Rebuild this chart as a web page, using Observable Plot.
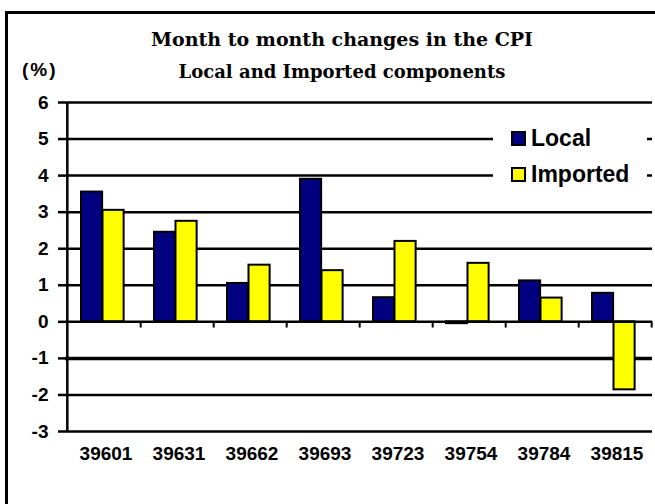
<!DOCTYPE html>
<html>
<head>
<meta charset="utf-8">
<script src="https://cdn.jsdelivr.net/npm/d3@7"></script>
<script src="https://cdn.jsdelivr.net/npm/@observablehq/plot@0.6"></script>
<style>
  html, body { margin: 0; padding: 0; background: #fff; }
  #wrap { position: relative; width: 655px; height: 504px; overflow: hidden; background: #fff; }
  #frame { position: absolute; left: 5px; top: 11px; width: 700px; height: 600px;
           border-left: 3px solid #000; border-top: 3px solid #000; }
  #chart { position: absolute; left: 0; top: 0; }
  .title { position: absolute; left: 0; width: 684px; text-align: center;
           font-family: "DejaVu Serif", serif; font-weight: bold; color: #000; white-space: nowrap; }
  #t1 { top: 28px; font-size: 19px; }
  #t2 { top: 61px; font-size: 18px; }
  #unit { position: absolute; left: 22px; top: 59px; font-family: "Liberation Sans", sans-serif;
          font-weight: bold; font-size: 19px; letter-spacing: 2px; }
  #legend { position: absolute; left: 493px; top: 119px; width: 154px; height: 76px; background: #fff;
            font-family: "Liberation Sans", sans-serif; font-weight: bold; font-size: 23px; }
  .item { position: absolute; left: 18px; height: 26px; display: flex; align-items: center; white-space: nowrap; }
  .sw { width: 11px; height: 11px; border: 2px solid #000; margin-right: 5px; }
</style>
</head>
<body>
<div id="wrap">
  <div id="frame"></div>
  <div id="chart"></div>
  <div class="title" id="t1">Month to month changes in the CPI</div>
  <div class="title" id="t2">Local and Imported components</div>
  <div id="unit">(%)</div>
  <div id="legend"></div>
</div>
<script>
const categories = ["39601", "39631", "39662", "39693", "39723", "39754", "39784", "39815"];
const localValues = [3.55, 2.45, 1.05, 3.9, 0.66, -0.05, 1.12, 0.78];
const importedValues = [3.05, 2.75, 1.55, 1.4, 2.2, 1.6, 0.65, -1.86];
const yTicks = [-3, -2, -1, 0, 1, 2, 3, 4, 5, 6];
const seriesNames = ["Local", "Imported"];
const seriesColors = ["#000080", "#FFFF00"];

const W = 655, H = 504;
const mL = 65, mR = 3, mT = 102, mB = 73;
const bw = (W - mL - mR) / categories.length;
const barW = 21.5;
const gapL = 14;

const localData = categories.map((c, i) => ({cat: c, v: localValues[i]}));
const importedData = categories.map((c, i) => ({cat: c, v: importedValues[i]}));

const chart = Plot.plot({
  width: W, height: H,
  marginLeft: mL, marginRight: mR, marginTop: mT, marginBottom: mB,
  style: {fontFamily: "Liberation Sans, sans-serif", fontWeight: "bold", color: "#000", background: "transparent", overflow: "visible"},
  x: {type: "band", domain: categories, padding: 0, label: null},
  y: {domain: [-3, 6], label: null},
  marks: [
    Plot.ruleY(yTicks.filter(t => t !== 0 && t !== -1), {stroke: "#000", strokeWidth: 2.5}),
    Plot.ruleY([-1], {stroke: "#000", strokeWidth: 3.5}),
    Plot.barY(localData, {x: "cat", y: "v", fill: seriesColors[0], stroke: "#000", strokeWidth: 2,
      insetLeft: gapL, insetRight: bw - gapL - barW}),
    Plot.barY(importedData, {x: "cat", y: "v", fill: seriesColors[1], stroke: "#000", strokeWidth: 2,
      insetLeft: gapL + barW, insetRight: bw - gapL - 2 * barW}),
    Plot.ruleY([0], {stroke: "#000", strokeWidth: 2.5}),
    Plot.ruleX(categories, {x: d => d, y1: 0, y2: -0.17, dx: bw / 2, stroke: "#000", strokeWidth: 2}),
    Plot.ruleX([categories[0]], {x: d => d, y1: -3, y2: 6, dx: -bw / 2, stroke: "#000", strokeWidth: 2.5}),
    Plot.axisY(yTicks, {tickSize: 7, tickPadding: 10, strokeWidth: 2.5, tickFormat: d => String(d), label: null,
      fontSize: 19, fontWeight: "bold"}),
    Plot.axisX({tickSize: 0, tickPadding: 15, dx: 2, label: null, fontSize: 19, fontWeight: "bold"})
  ]
});
document.getElementById("chart").appendChild(chart);

const legend = document.getElementById("legend");
seriesNames.forEach((name, i) => {
  const item = document.createElement("div");
  item.className = "item";
  item.style.top = (6 + i * 36.5) + "px";
  const sw = document.createElement("div");
  sw.className = "sw";
  sw.style.background = seriesColors[i];
  const label = document.createElement("span");
  label.textContent = name;
  item.appendChild(sw);
  item.appendChild(label);
  legend.appendChild(item);
});
</script>
</body>
</html>
